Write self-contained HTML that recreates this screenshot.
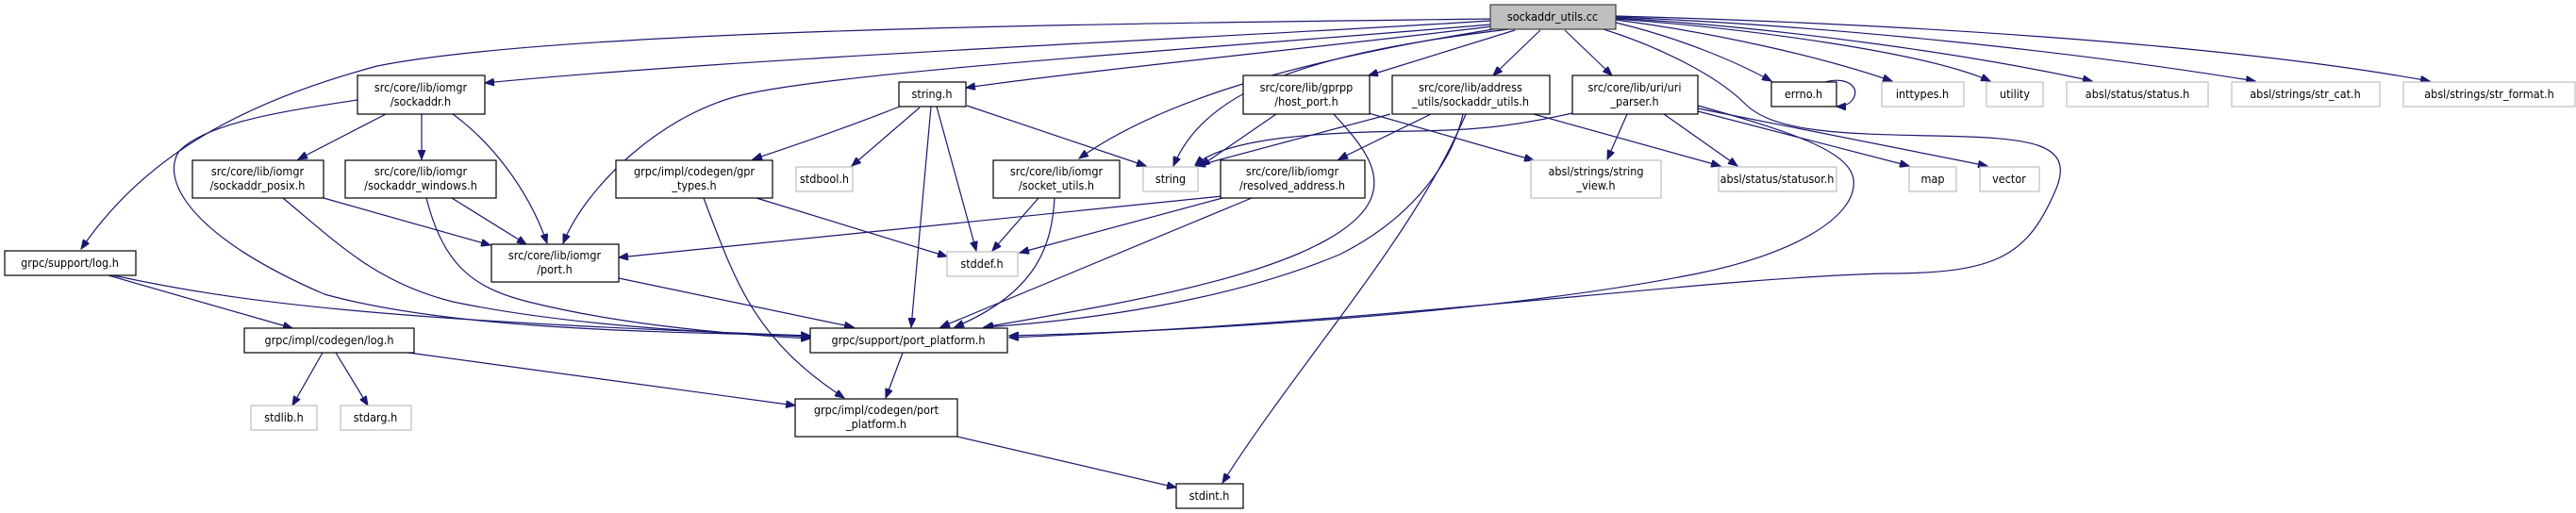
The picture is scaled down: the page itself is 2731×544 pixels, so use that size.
<!DOCTYPE html>
<html><head><meta charset="utf-8"><style>
html,body{margin:0;padding:0;background:#fff;}
svg{display:block;}
text{font-family:"DejaVu Sans Condensed","DejaVu Sans","Liberation Sans",sans-serif;font-size:12.5px;fill:#000;text-anchor:middle;}
.e{fill:none;stroke:#191970;stroke-width:1.2;marker-end:url(#a);}
.n{fill:#fff;stroke:#000;stroke-width:1.2;}
.g{fill:#fff;stroke:#bfbfbf;stroke-width:1.2;}
</style></head><body>
<svg width="2731" height="544" viewBox="0 0 2731 544" xmlns="http://www.w3.org/2000/svg">
<defs><marker id="a" markerWidth="11" markerHeight="8" refX="10" refY="4" orient="auto" markerUnits="userSpaceOnUse"><path d="M0,0 L10,4 L0,8 z" fill="#191970" stroke="#191970"/></marker></defs>

<!-- edges from root -->
<path class="e" d="M1580,22 C1300,40 800,60 514,88"/>
<path class="e" d="M1580,20 C1200,25 600,30 400,70 C250,110 150,170 86,264"/>
<path class="e" d="M1580,26 C1300,50 900,75 790,100 C700,120 620,200 597,258"/>
<path class="e" d="M1582,28 C1400,50 1150,75 1024,93"/>
<path class="e" d="M1590,30 C1400,60 1240,100 1144,168"/>
<path class="e" d="M1600,31 C1400,55 1280,90 1244,176"/>
<path class="e" d="M1606,32 L1451,80"/>
<path class="e" d="M1633,32 L1583,80"/>
<path class="e" d="M1659,32 L1709,80"/>
<path class="e" d="M1713,24 C1780,40 1840,65 1878,86"/>
<path class="e" d="M1713,21 C1820,35 1930,60 2006,86"/>
<path class="e" d="M1713,20 C1850,30 2040,55 2110,86"/>
<path class="e" d="M1713,19 C1900,30 2100,60 2218,86"/>
<path class="e" d="M1713,18 C1950,28 2200,55 2391,86"/>
<path class="e" d="M1713,17 C2000,25 2350,45 2576,86"/>
<path class="e" d="M1700,31 C1760,50 1820,80 1850,110 C1880,140 1950,142 2050,144 C2150,146 2200,150 2180,200 C2150,270 2120,290 2000,290 C1800,295 1500,340 1070,358"/>

<!-- other edges -->
<path class="e" d="M1800,112 C1900,140 1960,160 1965,190 C1970,230 1900,270 1800,290 C1600,330 1300,350 1070,356"/>
<path class="e" d="M1414,121 C1440,150 1480,190 1440,230 C1380,290 1200,320 1043,347"/>
<path class="e" d="M1551,121 C1540,170 1500,230 1420,270 C1300,320 1150,340 1043,347"/>
<path class="e" d="M1554,121 C1500,250 1380,380 1296,512"/>
<path class="e" d="M1517,121 L1419,169"/>
<path class="e" d="M1474,121 L1268,176"/>
<path class="e" d="M1626,121 L1824,176"/>
<path class="e" d="M1353,121 L1273,176"/>
<path class="e" d="M1451,120 L1626,170"/>
<path class="e" d="M1667,120 C1600,135 1560,138 1500,139 C1400,140 1300,146 1267,175"/>
<path class="e" d="M1725,121 L1704,169"/>
<path class="e" d="M1764,121 L1842,176"/>
<path class="e" d="M1800,118 L2024,176"/>
<path class="e" d="M1800,115 L2107,176"/>
<path class="e" d="M1935,87 C1960,80 1975,95 1962,108 C1958,112 1950,113 1947,113"/>

<path class="e" d="M1101,210 L1052,266"/>
<path class="e" d="M1118,210 C1115,260 1100,310 1012,347"/>
<path class="e" d="M1296,210 L1081,268"/>
<path class="e" d="M1327,210 L997,347"/>
<path class="e" d="M1296,208 L656,273"/>
<path class="e" d="M954,113 C930,122 900,135 798,169"/>
<path class="e" d="M975,114 L903,176"/>
<path class="e" d="M1025,112 L1215,176"/>
<path class="e" d="M993,113 L1035,266"/>
<path class="e" d="M987,113 L966,347"/>
<path class="e" d="M802,210 L1004,272"/>
<path class="e" d="M746,210 C780,300 800,360 895,422"/>
<path class="e" d="M656,295 L905,347"/>
<path class="e" d="M409,121 L316,169"/>
<path class="e" d="M447,121 L447,169"/>
<path class="e" d="M480,121 C520,150 560,200 580,258"/>
<path class="e" d="M379,106 C300,118 220,130 190,160 C170,190 200,250 344,312 C480,350 700,352 859,356"/>
<path class="e" d="M343,210 L520,260"/>
<path class="e" d="M300,210 C360,260 400,300 480,320 C600,345 750,353 859,357"/>
<path class="e" d="M479,210 L558,259"/>
<path class="e" d="M452,210 C470,280 500,305 560,320 C660,345 780,355 859,359"/>
<path class="e" d="M120,292 C250,320 400,340 859,356"/>
<path class="e" d="M115,292 L310,348"/>
<path class="e" d="M342,374 L310,430"/>
<path class="e" d="M356,374 L390,430"/>
<path class="e" d="M433,374 L843,430"/>
<path class="e" d="M957,374 L939,422"/>
<path class="e" d="M1015,463 L1247,517"/>

<!-- nodes -->
<rect x="1580" y="5" width="133" height="26" fill="#bfbfbf" stroke="#404040" stroke-width="1.2"/><text x="1646" y="22">sockaddr_utils.cc</text>
<rect class="n" x="379" y="80" width="135" height="41"/><text x="446" y="97">src/core/lib/iomgr</text><text x="446" y="112">/sockaddr.h</text>
<rect class="n" x="204" y="170" width="139" height="40"/><text x="273" y="186">src/core/lib/iomgr</text><text x="273" y="201">/sockaddr_posix.h</text>
<rect class="n" x="366" y="170" width="160" height="40"/><text x="446" y="186">src/core/lib/iomgr</text><text x="446" y="201">/sockaddr_windows.h</text>
<rect class="n" x="653" y="170" width="166" height="40"/><text x="736" y="186">grpc/impl/codegen/gpr</text><text x="736" y="201">_types.h</text>
<rect class="g" x="844" y="177" width="60" height="26"/><text x="874" y="194">stdbool.h</text>
<rect class="n" x="521" y="259" width="135" height="40"/><text x="588" y="275">src/core/lib/iomgr</text><text x="588" y="290">/port.h</text>
<rect class="n" x="5" y="266" width="139" height="26"/><text x="74" y="283">grpc/support/log.h</text>
<rect class="n" x="259" y="348" width="180" height="26"/><text x="349" y="365">grpc/impl/codegen/log.h</text>
<rect class="g" x="266" y="430" width="70" height="26"/><text x="301" y="447">stdlib.h</text>
<rect class="g" x="361" y="430" width="75" height="26"/><text x="398" y="447">stdarg.h</text>
<rect class="n" x="859" y="348" width="209" height="26"/><text x="963" y="365">grpc/support/port_platform.h</text>
<rect class="n" x="843" y="423" width="172" height="40"/><text x="929" y="439">grpc/impl/codegen/port</text><text x="929" y="454">_platform.h</text>
<rect class="n" x="1247" y="513" width="71" height="26"/><text x="1282" y="530">stdint.h</text>
<rect class="n" x="953" y="87" width="71" height="26"/><text x="988" y="104">string.h</text>
<rect class="n" x="1053" y="170" width="134" height="40"/><text x="1120" y="186">src/core/lib/iomgr</text><text x="1120" y="201">/socket_utils.h</text>
<rect class="g" x="1212" y="177" width="58" height="26"/><text x="1241" y="194">string</text>
<rect class="n" x="1294" y="170" width="153" height="40"/><text x="1370" y="186">src/core/lib/iomgr</text><text x="1370" y="201">/resolved_address.h</text>
<rect class="g" x="1004" y="267" width="75" height="26"/><text x="1041" y="284">stddef.h</text>
<rect class="n" x="1318" y="80" width="134" height="41"/><text x="1385" y="97">src/core/lib/gprpp</text><text x="1385" y="112">/host_port.h</text>
<rect class="n" x="1476" y="80" width="167" height="41"/><text x="1559" y="97">src/core/lib/address</text><text x="1559" y="112">_utils/sockaddr_utils.h</text>
<rect class="n" x="1667" y="80" width="133" height="41"/><text x="1733" y="97">src/core/lib/uri/uri</text><text x="1733" y="112">_parser.h</text>
<rect class="g" x="1623" y="170" width="138" height="40"/><text x="1692" y="186">absl/strings/string</text><text x="1692" y="201">_view.h</text>
<rect class="g" x="1822" y="177" width="125" height="26"/><text x="1884" y="194">absl/status/statusor.h</text>
<rect class="g" x="2024" y="177" width="50" height="26"/><text x="2049" y="194">map</text>
<rect class="g" x="2099" y="177" width="63" height="26"/><text x="2130" y="194">vector</text>
<rect class="n" x="1878" y="87" width="69" height="26"/><text x="1912" y="104">errno.h</text>
<rect class="g" x="1995" y="87" width="87" height="26"/><text x="2038" y="104">inttypes.h</text>
<rect class="g" x="2106" y="87" width="60" height="26"/><text x="2136" y="104">utility</text>
<rect class="g" x="2191" y="87" width="150" height="26"/><text x="2266" y="104">absl/status/status.h</text>
<rect class="g" x="2366" y="87" width="157" height="26"/><text x="2444" y="104">absl/strings/str_cat.h</text>
<rect class="g" x="2548" y="87" width="182" height="26"/><text x="2639" y="104">absl/strings/str_format.h</text>
</svg>
</body></html>
